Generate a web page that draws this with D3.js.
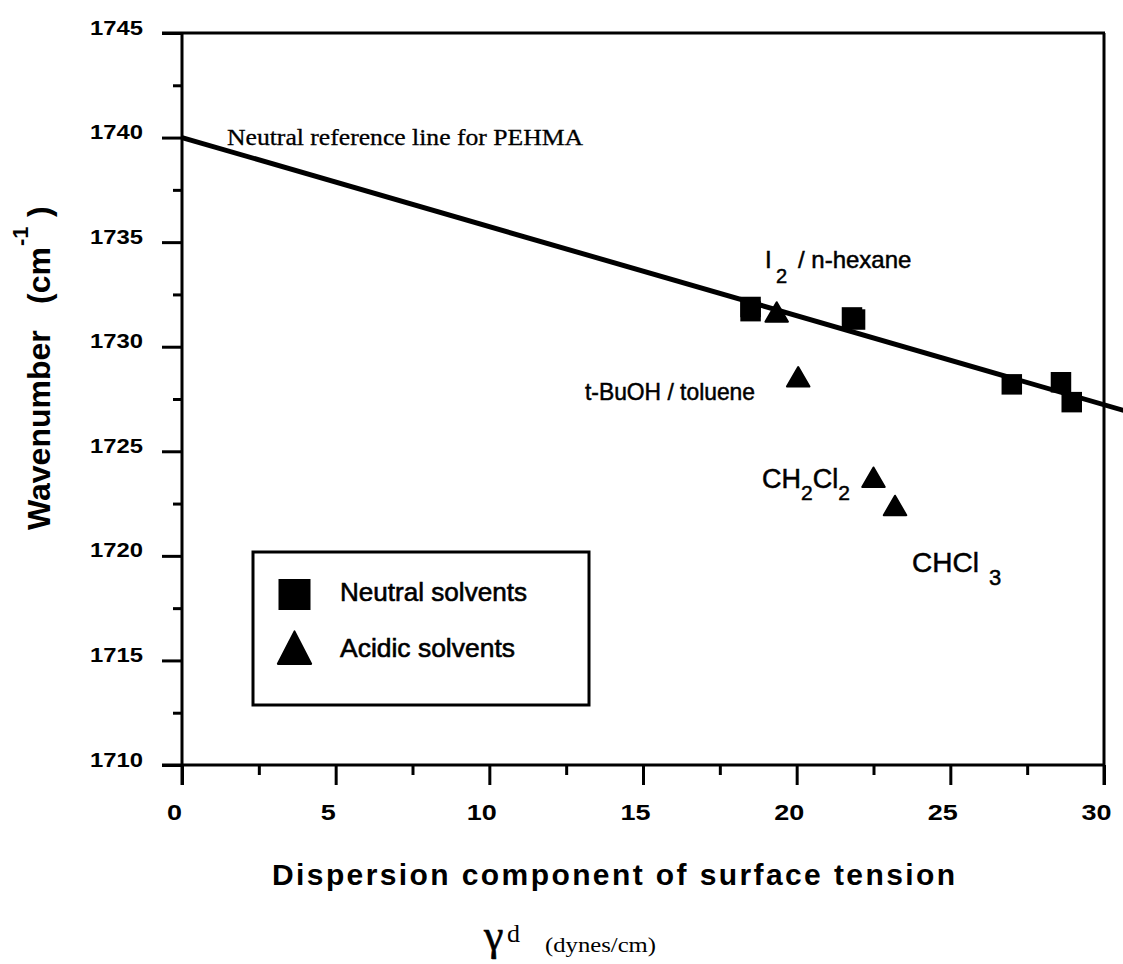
<!DOCTYPE html>
<html>
<head>
<meta charset="utf-8">
<script src="https://cdn.jsdelivr.net/npm/d3@7"></script>
<style>
  html, body { margin: 0; padding: 0; background: #fff; }
  svg { display: block; }
</style>
</head>
<body>
<svg id="chart" width="1123" height="964"></svg>
<script>
// Axis ticks
const xTicks = [0, 5, 10, 15, 20, 25, 30];
const xMinorTicks = [2.5, 7.5, 12.5, 17.5, 22.5, 27.5];
const yTicks = [1710, 1715, 1720, 1725, 1730, 1735, 1740, 1745];
const yMinorTicks = [1712.5, 1717.5, 1722.5, 1727.5, 1732.5, 1737.5, 1742.5];

// Neutral solvents (squares): dispersion component vs C=O wavenumber
const neutralX = [18.5, 18.5, 21.8, 21.9, 27.0, 28.6, 28.95];
const neutralY = [1731.9, 1731.7, 1731.4, 1731.3, 1728.2, 1728.3, 1727.35];

// Acidic solvents (triangles)
const acidicX = [19.35, 20.05, 22.5, 23.2];
const acidicY = [1731.6, 1728.5, 1723.7, 1722.35];

// Neutral reference line for PEHMA (endpoints)
const refX = [0, 31];
const refY = [1740, 1726.8];

const svg = d3.select("#chart");
const SANS = "'Liberation Sans', Arial, Helvetica, sans-serif";
const SERIF = "'Liberation Serif', 'Times New Roman', serif";

const x = d3.scaleLinear().domain([0, 30]).range([182, 1104]);
const y = d3.scaleLinear().domain([1710, 1745]).range([765, 33]);

// ---- frame ----
const frame = svg.append("g").attr("stroke", "#000").attr("stroke-width", 3).attr("fill", "none");
frame.append("line").attr("x1", x(0) - 20).attr("x2", x(30) + 1).attr("y1", y(1745)).attr("y2", y(1745));
frame.append("line").attr("x1", x(0) - 20).attr("x2", x(30) + 1).attr("y1", y(1710)).attr("y2", y(1710));
frame.append("line").attr("x1", x(0)).attr("x2", x(0)).attr("y1", y(1745)).attr("y2", y(1710) + 20);
frame.append("line").attr("x1", x(30)).attr("x2", x(30)).attr("y1", y(1745)).attr("y2", y(1710) + 20);

// ---- y axis ----
const yAxis = svg.append("g").attr("transform", `translate(${x(0)},0)`)
  .call(d3.axisLeft(y).tickValues(yTicks).tickSize(20).tickPadding(19).tickFormat(d3.format("d")));
yAxis.select(".domain").remove();
yAxis.selectAll(".tick line").attr("stroke-width", 3);
yAxis.selectAll(".tick text")
  .attr("dy", "0.05em")
  .attr("font-family", SANS).attr("font-weight", "bold").attr("font-size", 21)
  .attr("textLength", 53).attr("lengthAdjust", "spacingAndGlyphs")
  .attr("fill", "#000");

const yMinor = svg.append("g").attr("transform", `translate(${x(0)},0)`)
  .call(d3.axisLeft(y).tickValues(yMinorTicks).tickSize(9).tickFormat(""));
yMinor.select(".domain").remove();
yMinor.selectAll(".tick line").attr("stroke-width", 3);

// ---- x axis ----
const xAxis = svg.append("g").attr("transform", `translate(0,${y(1710)})`)
  .call(d3.axisBottom(x).tickValues(xTicks).tickSize(20).tickFormat(d3.format("d")));
xAxis.select(".domain").remove();
xAxis.selectAll(".tick line").attr("stroke-width", 3);
xAxis.selectAll(".tick text")
  .attr("y", 55).attr("dy", 0).attr("dx", -8)
  .attr("font-family", SANS).attr("font-weight", "bold").attr("font-size", 22)
  .attr("textLength", d => String(d).length * 15).attr("lengthAdjust", "spacingAndGlyphs")
  .attr("fill", "#000");

const xMinor = svg.append("g").attr("transform", `translate(0,${y(1710)})`)
  .call(d3.axisBottom(x).tickValues(xMinorTicks).tickSize(10).tickFormat(""));
xMinor.select(".domain").remove();
xMinor.selectAll(".tick line").attr("stroke-width", 3);

// ---- reference line ----
const refData = refX.map((v, i) => [v, refY[i]]);
svg.append("path")
  .datum(refData)
  .attr("d", d3.line().x(d => x(d[0])).y(d => y(d[1])))
  .attr("fill", "none").attr("stroke", "#000").attr("stroke-width", 5);

svg.append("text")
  .attr("x", 227).attr("y", 145)
  .attr("font-family", SERIF).attr("font-size", 23)
  .attr("stroke", "#000").attr("stroke-width", 0.3)
  .attr("textLength", 356).attr("lengthAdjust", "spacingAndGlyphs")
  .text("Neutral reference line for PEHMA");

// ---- markers ----
const square = d3.symbol().type(d3.symbolSquare).size(420);
const triangle = d3.symbol().type(d3.symbolTriangle).size(220);

svg.append("g").selectAll("path")
  .data(neutralX.map((v, i) => [v, neutralY[i]]))
  .join("path")
  .attr("d", square)
  .attr("transform", d => `translate(${x(d[0])},${y(d[1])})`)
  .attr("fill", "#000");

svg.append("g").selectAll("path")
  .data(acidicX.map((v, i) => [v, acidicY[i]]))
  .join("path")
  .attr("d", triangle)
  .attr("transform", d => `translate(${x(d[0])},${y(d[1]) + 2})`)
  .attr("fill", "#000").attr("stroke", "#000").attr("stroke-width", 2).attr("stroke-linejoin", "round");

// ---- point annotations (runs of text with subscripts) ----
function label(parts, size) {
  const t = svg.append("text")
    .attr("font-family", SANS).attr("font-size", size).attr("fill", "#000")
    .attr("stroke", "#000").attr("stroke-width", 0.5);
  parts.forEach(p => {
    const s = t.append("tspan").text(p.t).attr("y", p.y);
    if (p.x !== undefined) s.attr("x", p.x);
    if (p.size) s.attr("font-size", p.size);
  });
  return t;
}
label([{t: "I", x: 765, y: 268}, {t: "2", x: 776, y: 283, size: 20}, {t: "/ n-hexane", x: 798, y: 268}], 24);
label([{t: "t-BuOH / toluene", x: 585, y: 400}], 24)
  .attr("textLength", 170).attr("lengthAdjust", "spacingAndGlyphs");
label([{t: "CH", x: 762, y: 488}, {t: "2", y: 500, size: 21}, {t: "Cl", y: 488}, {t: "2", y: 500, size: 21}], 27);
label([{t: "CHCl", x: 912, y: 572}, {t: "3", x: 989, y: 585, size: 22}], 28);

// ---- legend ----
const lg = svg.append("g");
lg.append("rect").attr("x", 253).attr("y", 552).attr("width", 336).attr("height", 153)
  .attr("fill", "#fff").attr("stroke", "#000").attr("stroke-width", 3);
lg.append("path").attr("d", d3.symbol().type(d3.symbolSquare).size(1024)())
  .attr("transform", "translate(294.5,594.5) scale(1,0.97)").attr("fill", "#000");
lg.append("path").attr("d", d3.symbol().type(d3.symbolTriangle).size(480)())
  .attr("transform", "translate(294.5,653) scale(1,1.12)").attr("fill", "#000")
  .attr("stroke", "#000").attr("stroke-width", 2).attr("stroke-linejoin", "round");
lg.append("text").attr("x", 340).attr("y", 601)
  .attr("font-family", SANS).attr("font-size", 26).attr("fill", "#000")
  .attr("stroke", "#000").attr("stroke-width", 0.6)
  .attr("textLength", 187).attr("lengthAdjust", "spacingAndGlyphs")
  .text("Neutral solvents");
lg.append("text").attr("x", 340).attr("y", 657)
  .attr("font-family", SANS).attr("font-size", 26).attr("fill", "#000")
  .attr("stroke", "#000").attr("stroke-width", 0.6)
  .attr("textLength", 175).attr("lengthAdjust", "spacingAndGlyphs")
  .text("Acidic solvents");

// ---- axis titles ----
svg.append("text")
  .attr("x", 272).attr("y", 885)
  .attr("font-family", SANS).attr("font-weight", "bold").attr("font-size", 30)
  .attr("textLength", 683).attr("lengthAdjust", "spacing")
  .attr("fill", "#000")
  .text("Dispersion component of surface tension");

const gl = svg.append("g").attr("fill", "#000");
gl.append("text").attr("x", 484).attr("y", 950)
  .attr("font-family", SERIF).attr("font-size", 44)
  .attr("stroke", "#000").attr("stroke-width", 0.6).text("γ");
gl.append("text").attr("x", 507).attr("y", 942)
  .attr("font-family", SERIF).attr("font-size", 26).text("d");
gl.append("text").attr("x", 545).attr("y", 952)
  .attr("font-family", SERIF).attr("font-size", 20)
  .attr("textLength", 111).attr("lengthAdjust", "spacingAndGlyphs")
  .text("(dynes/cm)");

const yl = svg.append("text")
  .attr("transform", "translate(50,530) rotate(-90)")
  .attr("font-family", SANS).attr("font-weight", "bold").attr("font-size", 32).attr("fill", "#000");
yl.append("tspan").attr("x", 0).attr("y", 0).text("Wavenumber");
yl.append("tspan").attr("x", 226).attr("y", 0).text("(cm");
yl.append("tspan").attr("x", 284).attr("y", -22).attr("font-size", 22).text("-1");
yl.append("tspan").attr("x", 313).attr("y", 0).text(")");
</script>
</body>
</html>
